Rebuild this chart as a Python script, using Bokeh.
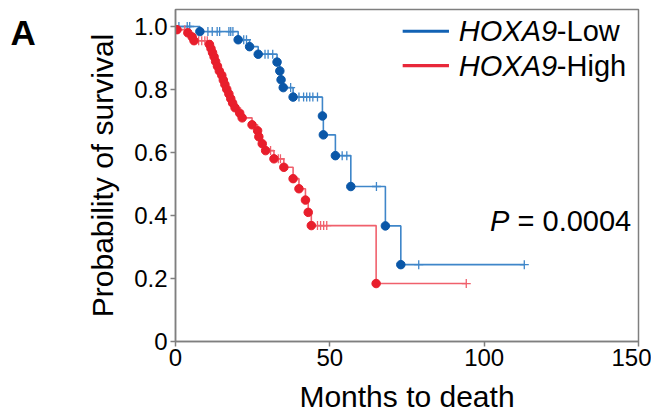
import numpy as np
from bokeh.plotting import figure
from bokeh.models import Range1d, FixedTicker, Label, BoxAnnotation
from bokeh.embed import file_html
from bokeh.resources import INLINE

# ---- data ----
low_times = [7.9, 20.3, 24.0, 26.8, 32.9, 33.8, 34.2, 34.9, 38.1, 47.6, 47.9, 51.8, 56.8, 68.0, 73.0]
low_surv = [0.984, 0.958, 0.936, 0.912, 0.887, 0.859, 0.831, 0.806, 0.776, 0.716, 0.656, 0.590, 0.492, 0.367, 0.244]
low_censor = [1.1, 3.8, 4.6, 10.5, 11.9, 13.5, 14.3, 17.3, 17.9, 18.6, 22.1, 23.0, 29.0, 30.0, 31.5,
              37.3, 40.0, 41.5, 42.5, 43.5, 44.5, 46.0, 54.0, 55.5, 65.1, 78.8, 113.0]

high_times = [0.5, 4.0, 5.4, 6.0, 11.0, 11.5, 12.0, 12.5, 13.0, 13.6, 14.2, 15.0, 15.5, 16.0, 16.6,
              17.3, 17.9, 18.5, 19.3, 20.8, 21.6, 24.8, 26.6, 27.0, 28.1, 29.2, 31.9, 35.1, 38.1,
              40.0, 42.1, 43.0, 44.0, 65.0]
high_surv = [0.990, 0.980, 0.967, 0.955, 0.943, 0.930, 0.917, 0.904, 0.889, 0.874, 0.859, 0.845, 0.830,
             0.816, 0.801, 0.786, 0.771, 0.757, 0.742, 0.725, 0.710, 0.688, 0.669, 0.650, 0.628, 0.606,
             0.580, 0.553, 0.517, 0.485, 0.449, 0.410, 0.368, 0.184]
high_censor = [3.0, 7.5, 8.5, 9.5, 10.3, 19.8, 30.8, 33.3, 34.0, 46.0, 47.0, 48.0, 49.0, 94.2]

x_ticks = [0, 50, 100, 150]
y_ticks = [0, 0.2, 0.4, 0.6, 0.8, 1.0]
y_tick_labels = {0: "0", 0.2: "0.2", 0.4: "0.4", 0.6: "0.6", 0.8: "0.8", 1.0: "1.0"}

series = [
    ("HOXA9", "-Low", low_times, low_surv, low_censor, "#3f86c9", "#0a57a8", "#1262b4"),
    ("HOXA9", "-High", high_times, high_surv, high_censor, "#f0606c", "#e81e2c", "#e8283a"),
]

FONT = "Liberation Sans"
AXC = "#7f7f7f"

p = figure(width=651, height=416, output_backend="svg", toolbar_location=None,
           x_range=Range1d(0, 150), y_range=Range1d(0, 1.054),
           min_border_left=175, min_border_right=13, min_border_top=9, min_border_bottom=75)
p.grid.visible = False
p.outline_line_color = AXC
p.outline_line_width = 1.5
p.background_fill_color = "white"
p.border_fill_color = "white"

for ax in (p.xaxis, p.yaxis):
    ax.axis_line_color = AXC
    ax.axis_line_width = 1.5
    ax.major_tick_line_color = AXC
    ax.major_tick_line_width = 1.5
    ax.major_tick_out = 5
    ax.major_tick_in = 0
    ax.minor_tick_line_color = None
    ax.major_label_text_font = FONT
    ax.major_label_text_font_size = "24px"
    ax.major_label_text_color = "black"
    ax.axis_label_text_font = FONT
    ax.axis_label_text_font_size = "30px"
    ax.axis_label_text_font_style = "normal"
    ax.axis_label_text_color = "black"

p.xaxis.ticker = FixedTicker(ticks=x_ticks)
p.yaxis.ticker = FixedTicker(ticks=y_ticks)
p.yaxis.major_label_overrides = y_tick_labels
p.xaxis.axis_label = "Months to death"
p.yaxis.axis_label = "Probability of survival"
p.xaxis.major_label_standoff = 2
p.yaxis.major_label_standoff = 3
p.xaxis.axis_label_standoff = 11
p.yaxis.axis_label_standoff = 12

for gene, suffix, times, surv, cens, lc, dc, legc in series:
    t = np.array(times)
    s = np.array(surv)
    c = np.array(cens)
    end = max(c.max(), t.max())
    xs = np.concatenate([[0.0], t, [end]])
    ys = np.concatenate([[1.0], s, [s[-1]]])
    p.step(xs, ys, mode="after", line_color=lc, line_width=1.6)
    idx = np.searchsorted(t, c, side="right")
    cy = np.where(idx == 0, 1.0, s[np.maximum(idx - 1, 0)])
    p.scatter(c, cy, marker="cross", size=9, line_color=lc, line_width=1.3)
    p.scatter(t, s, marker="circle", size=8.5, fill_color=dc, line_color=dc)

# legend drawn by hand (italic gene name + plain suffix)
leg_y = [0.985, 0.876]
for (gene, suffix, times, surv, cens, lc, dc, legc), ly in zip(series, leg_y):
    p.add_layout(BoxAnnotation(left=73.6, right=88.6, bottom=ly - 0.005, top=ly + 0.005,
                               fill_color=legc, fill_alpha=1, line_color=None))
    p.add_layout(Label(x=91.8, y=ly, text=gene, text_font=FONT, text_font_style="italic",
                       text_font_size="29px", text_baseline="middle", text_color="black"))
    p.add_layout(Label(x=91.8, y=ly, x_offset=98, text=suffix, text_font=FONT,
                       text_font_size="29px", text_baseline="middle", text_color="black"))

# P value
p.add_layout(Label(x=101.9, y=0.383, text="P", text_font=FONT, text_font_style="italic",
                   text_font_size="29px", text_baseline="middle", text_color="black"))
p.add_layout(Label(x=101.9, y=0.383, x_offset=27.5, text="= 0.0004", text_font=FONT,
                   text_font_size="29px", text_baseline="middle", text_color="black"))

# panel letter, placed in the left side panel so it is not clipped to the frame
p.add_layout(Label(x=-48, y=309, x_units="screen", y_units="screen", text="A", text_font=FONT,
                   text_font_style="bold", text_font_size="35px", text_baseline="middle",
                   text_color="black"), "left")

open("out.html", "w").write(file_html(p, INLINE))
